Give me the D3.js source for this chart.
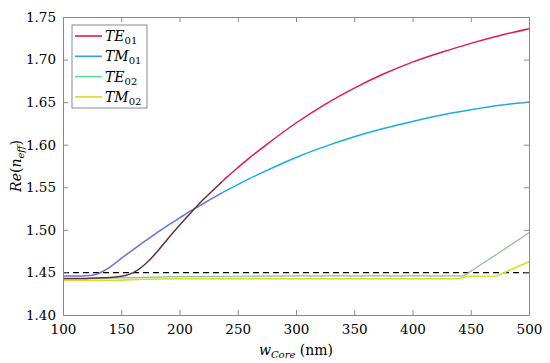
<!DOCTYPE html>
<html>
<head>
<meta charset="utf-8">
<script src="https://cdn.jsdelivr.net/npm/d3@7"></script>
<style>
    body { margin: 0; background: #fff; }
</style>
</head>
<body>
<div id="chart"></div>
<script>
// Effective index vs. core width
const widths = [100, 120, 130, 140, 150, 160, 170, 180, 190, 200, 210, 220, 230, 240, 250, 260, 275, 300, 325, 350, 375, 400, 425, 450, 475, 500];
const te01 = [1.443, 1.443, 1.4435, 1.444, 1.4455, 1.4495, 1.459, 1.473, 1.4895, 1.5055, 1.5205, 1.535, 1.548, 1.561, 1.573, 1.5845, 1.6005, 1.6255, 1.6475, 1.6665, 1.683, 1.697, 1.7085, 1.719, 1.7283, 1.7363];
const tm01 = [1.4458, 1.446, 1.4485, 1.456, 1.4665, 1.4765, 1.4865, 1.496, 1.5053, 1.514, 1.5225, 1.5305, 1.5385, 1.546, 1.5532, 1.5601, 1.5698, 1.585, 1.598, 1.6093, 1.619, 1.6273, 1.6348, 1.641, 1.6463, 1.6503];

const widths2 = [100, 150, 200, 250, 300, 350, 400, 440, 444, 450, 475, 500];
const te02 = [1.4425, 1.4435, 1.445, 1.4455, 1.446, 1.446, 1.446, 1.446, 1.446, 1.4515, 1.4738, 1.4965];

const widths3 = [100, 150, 170, 200, 300, 400, 440, 447, 472, 480, 500];
const tm02 = [1.4405, 1.441, 1.442, 1.4425, 1.4425, 1.4425, 1.4425, 1.4455, 1.4458, 1.4506, 1.4626];

const claddingIndex = 1.4497;

const xTicks = [100, 150, 200, 250, 300, 350, 400, 450, 500];
const yTicks = [1.40, 1.45, 1.50, 1.55, 1.60, 1.65, 1.70, 1.75];

const legendNames = ['TE', 'TM', 'TE', 'TM'];
const legendSubs = ['01', '01', '02', '02'];
const legendColors = ['#e2185a', '#27a6e0', '#5ddc9a', '#e6d12e'];

const width = 550;
const height = 363;
const margin = { top: 17, right: 21, bottom: 48, left: 63 };
const serif = '"DejaVu Serif", serif';

const x = d3.scaleLinear().domain([100, 500]).range([margin.left, width - margin.right]);
const y = d3.scaleLinear().domain([1.40, 1.75]).range([height - margin.bottom, margin.top]);

const svg = d3.select('#chart').append('svg')
    .attr('width', width)
    .attr('height', height);

// left part of the red/blue curves looks darker in the figure (overlapped plots)
const splitX = x(237);
const defs = svg.append('defs');
defs.append('clipPath').attr('id', 'clipLeft')
    .append('rect').attr('x', 0).attr('y', 0).attr('width', splitX).attr('height', height);
defs.append('clipPath').attr('id', 'clipRight')
    .append('rect').attr('x', splitX).attr('y', 0).attr('width', width - splitX).attr('height', height);

const smoothLine = d3.line().x(d => x(d[0])).y(d => y(d[1])).curve(d3.curveNatural);
const straightLine = d3.line().x(d => x(d[0])).y(d => y(d[1]));

// dashed cladding line
svg.append('line')
    .attr('x1', x(100)).attr('x2', x(500))
    .attr('y1', y(claddingIndex)).attr('y2', y(claddingIndex))
    .style('stroke', '#000')
    .style('stroke-width', 1.2)
    .style('stroke-dasharray', '6,4');

svg.append('path')
    .attr('d', straightLine(widths3.map((w, i) => [w, tm02[i]])))
    .style('fill', 'none').style('stroke', '#cfe12a').style('stroke-width', 1.6);

svg.append('path')
    .attr('d', straightLine(widths2.map((w, i) => [w, te02[i]])))
    .style('fill', 'none').style('stroke', '#86bf98').style('stroke-width', 1.2);

const tm01Pts = widths.map((w, i) => [w, tm01[i]]);
const te01Pts = widths.map((w, i) => [w, te01[i]]);

svg.append('path').attr('d', smoothLine(tm01Pts)).attr('clip-path', 'url(#clipLeft)')
    .style('fill', 'none').style('stroke', '#6a72dc').style('stroke-width', 1.5);
svg.append('path').attr('d', smoothLine(tm01Pts)).attr('clip-path', 'url(#clipRight)')
    .style('fill', 'none').style('stroke', '#1aaede').style('stroke-width', 1.5);

svg.append('path').attr('d', smoothLine(te01Pts)).attr('clip-path', 'url(#clipLeft)')
    .style('fill', 'none').style('stroke', '#6b2d3a').style('stroke-width', 1.5);
svg.append('path').attr('d', smoothLine(te01Pts)).attr('clip-path', 'url(#clipRight)')
    .style('fill', 'none').style('stroke', '#e2185a').style('stroke-width', 1.5);

// axes box with inward ticks on all four sides
const axisColor = '#8a8a8a';
const tickLen = 5;
const styleAxis = (g) => {
    g.attr('font-family', null).attr('font-size', null);
    g.select('.domain').style('stroke', axisColor).style('stroke-width', 1);
    g.selectAll('.tick line').style('stroke', axisColor);
    g.selectAll('.tick text')
        .style('font-family', serif)
        .style('font-size', '13.5px')
        .style('fill', '#000');
};

svg.append('g')
    .attr('transform', `translate(0,${height - margin.bottom})`)
    .call(d3.axisBottom(x).tickValues(xTicks).tickSizeInner(-tickLen).tickSizeOuter(0).tickPadding(9))
    .call(styleAxis);

svg.append('g')
    .attr('transform', `translate(0,${margin.top})`)
    .call(d3.axisTop(x).tickValues(xTicks).tickSizeInner(-tickLen).tickSizeOuter(0).tickFormat(''))
    .call(styleAxis);

svg.append('g')
    .attr('transform', `translate(${margin.left},0)`)
    .call(d3.axisLeft(y).tickValues(yTicks).tickSizeInner(-tickLen).tickSizeOuter(0).tickPadding(7).tickFormat(d3.format('.2f')))
    .call(styleAxis);

svg.append('g')
    .attr('transform', `translate(${width - margin.right},0)`)
    .call(d3.axisRight(y).tickValues(yTicks).tickSizeInner(-tickLen).tickSizeOuter(0).tickFormat(''))
    .call(styleAxis);

// axis titles
const xTitle = svg.append('text')
    .attr('x', x(300))
    .attr('y', 355)
    .style('font-family', serif)
    .style('text-anchor', 'middle')
    .style('font-size', '14px');
xTitle.append('tspan').style('font-style', 'italic').text('w');
xTitle.append('tspan').style('font-style', 'italic').style('font-size', '10px').attr('dy', 3).text('Core');
xTitle.append('tspan').attr('dy', -3).text(' (nm)');

const yTitle = svg.append('text')
    .attr('transform', `translate(21,${y(1.575)}) rotate(-90)`)
    .style('font-family', serif)
    .style('text-anchor', 'middle')
    .style('font-size', '14px');
yTitle.append('tspan').style('font-style', 'italic').text('Re');
yTitle.append('tspan').text('(');
yTitle.append('tspan').style('font-style', 'italic').text('n');
yTitle.append('tspan').style('font-style', 'italic').style('font-size', '10px').attr('dy', 3).text('eff');
yTitle.append('tspan').attr('dy', -3).text(')');

// legend
const legend = svg.append('g').attr('transform', 'translate(72,25)');
legend.append('rect')
    .attr('width', 75).attr('height', 83)
    .style('fill', '#fff')
    .style('stroke', axisColor)
    .style('stroke-width', 1);

const rowGap = 20.3;
const items = legend.selectAll('.legend-item')
    .data(legendNames)
    .enter().append('g')
    .attr('class', 'legend-item')
    .attr('transform', (d, i) => `translate(0,${11 + i * rowGap})`);

items.append('line')
    .attr('x1', 3).attr('x2', 30)
    .style('stroke', (d, i) => legendColors[i])
    .style('stroke-width', 1.6);

const labels = items.append('text')
    .attr('x', 33)
    .attr('y', 5)
    .style('font-family', serif)
    .style('font-size', '14px');
labels.append('tspan').style('font-style', 'italic').text(d => d);
labels.append('tspan').style('font-size', '10px').attr('dy', 3).text((d, i) => legendSubs[i]);
</script>
</body>
</html>
